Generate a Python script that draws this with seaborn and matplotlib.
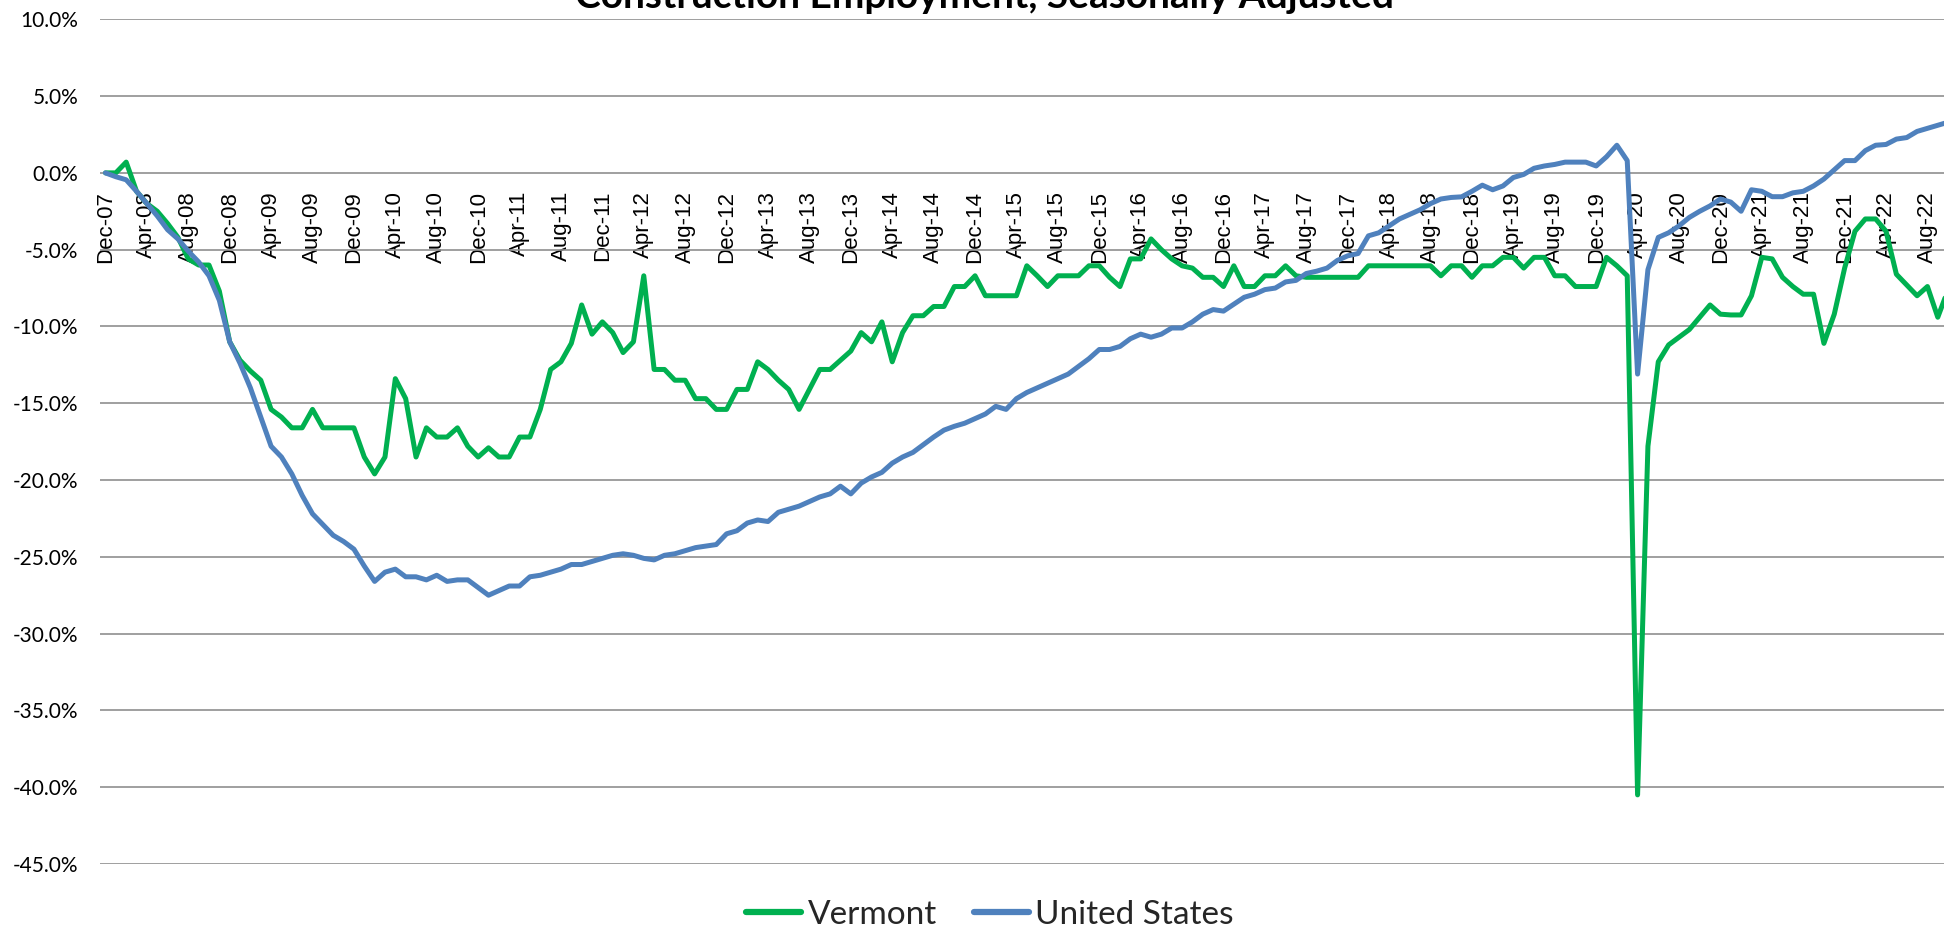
import numpy as np
import pandas as pd
import matplotlib
matplotlib.use("Agg")
import matplotlib.pyplot as plt
import seaborn as sns

# ---------------- data (percent change since Dec-07) ----------------
title = "Construction Employment, Seasonally Adjusted"
series_names = ["Vermont", "United States"]
months = pd.date_range("2007-12-01", periods=179, freq="MS")
month_labels = [m.strftime("%b-%y") for m in months]

vermont = [
    0.0, 0.0, 0.7, -1.2, -2.0, -2.5, -3.3, -4.2, -5.6, -6.0,
    -6.0, -7.7, -11.0, -12.2, -12.9, -13.5, -15.4, -15.9, -16.6, -16.6,
    -15.4, -16.6, -16.6, -16.6, -16.6, -18.5, -19.6, -18.5, -13.4, -14.7,
    -18.5, -16.6, -17.2, -17.2, -16.6, -17.8, -18.5, -17.9, -18.5, -18.5,
    -17.2, -17.2, -15.4, -12.8, -12.3, -11.1, -8.6, -10.5, -9.7, -10.4,
    -11.7, -11.0, -6.7, -12.8, -12.8, -13.5, -13.5, -14.7, -14.7, -15.4,
    -15.4, -14.1, -14.1, -12.3, -12.8, -13.5, -14.1, -15.4, -14.1, -12.8,
    -12.8, -12.2, -11.6, -10.4, -11.0, -9.7, -12.3, -10.4, -9.3, -9.3,
    -8.7, -8.7, -7.4, -7.4, -6.7, -8.0, -8.0, -8.0, -8.0, -6.05,
    -6.7, -7.4, -6.7, -6.7, -6.7, -6.05, -6.05, -6.8, -7.4, -5.6,
    -5.6, -4.3, -5.0, -5.6, -6.05, -6.2, -6.8, -6.8, -7.4, -6.05,
    -7.4, -7.4, -6.7, -6.7, -6.05, -6.7, -6.8, -6.8, -6.8, -6.8,
    -6.8, -6.8, -6.05, -6.05, -6.05, -6.05, -6.05, -6.05, -6.05, -6.7,
    -6.05, -6.05, -6.8, -6.05, -6.05, -5.5, -5.5, -6.2, -5.5, -5.5,
    -6.7, -6.7, -7.4, -7.4, -7.4, -5.5, -6.05, -6.7, -40.5, -17.8,
    -12.3, -11.2, -10.7, -10.2, -9.4, -8.6, -9.2, -9.25, -9.25, -8.0,
    -5.5, -5.6, -6.8, -7.4, -7.9, -7.9, -11.1, -9.2, -6.2, -3.8,
    -3.0, -3.0, -3.8, -6.6, -7.3, -8.0, -7.4, -9.4, -7.6,
]

united_states = [
    0.0, -0.25, -0.45, -1.2, -2.0, -2.8, -3.7, -4.3, -5.1, -5.8,
    -6.7, -8.3, -11.0, -12.4, -14.0, -15.9, -17.8, -18.5, -19.6, -21.0,
    -22.2, -22.9, -23.6, -24.0, -24.5, -25.6, -26.6, -26.0, -25.8, -26.3,
    -26.3, -26.5, -26.2, -26.6, -26.5, -26.5, -27.0, -27.5, -27.2, -26.9,
    -26.9, -26.3, -26.2, -26.0, -25.8, -25.5, -25.5, -25.3, -25.1, -24.9,
    -24.8, -24.9, -25.1, -25.2, -24.9, -24.8, -24.6, -24.4, -24.3, -24.2,
    -23.5, -23.3, -22.8, -22.6, -22.7, -22.1, -21.9, -21.7, -21.4, -21.1,
    -20.9, -20.4, -20.9, -20.2, -19.8, -19.5, -18.9, -18.5, -18.2, -17.7,
    -17.2, -16.75, -16.5, -16.3, -16.0, -15.7, -15.2, -15.4, -14.7, -14.3,
    -14.0, -13.7, -13.4, -13.1, -12.6, -12.1, -11.5, -11.5, -11.3, -10.8,
    -10.5, -10.7, -10.5, -10.1, -10.1, -9.7, -9.2, -8.9, -9.0, -8.55,
    -8.1, -7.9, -7.6, -7.5, -7.1, -7.0, -6.55, -6.4, -6.2, -5.7,
    -5.4, -5.25, -4.1, -3.9, -3.45, -3.0, -2.7, -2.4, -2.0, -1.7,
    -1.6, -1.56, -1.2, -0.8, -1.1, -0.85, -0.3, -0.1, 0.3, 0.45,
    0.55, 0.7, 0.7, 0.7, 0.45, 1.05, 1.8, 0.8, -13.1, -6.3,
    -4.2, -3.9, -3.45, -2.9, -2.5, -2.15, -1.7, -1.9, -2.5, -1.1,
    -1.2, -1.55, -1.55, -1.3, -1.2, -0.85, -0.4, 0.2, 0.8, 0.8,
    1.45, 1.8, 1.85, 2.2, 2.3, 2.7, 2.9, 3.1, 3.3,
]

y_ticks = [10, 5, 0, -5, -10, -15, -20, -25, -30, -35, -40, -45]

colors = ["#00B050", "#4F81BD"]

# ---------------- build long table ----------------
idx = np.arange(len(month_labels))
df = pd.DataFrame({
    "i": np.concatenate([idx, idx]),
    "value": np.concatenate([vermont, united_states]),
    "series": [series_names[0]] * len(idx) + [series_names[1]] * len(idx),
})

# ---------------- styling ----------------
sns.set_theme(style="white")
plt.rcParams["font.family"] = ["Lato", "DejaVu Sans"]

W, H = 1944, 931
fig = plt.figure(figsize=(W / 100, H / 100), dpi=100)
left_px, right_px = 100.3, 1944.0
top_px, bot_px = 19.3, 864.0
ax = fig.add_axes([left_px / W, 1 - bot_px / H,
                   (right_px - left_px) / W, (bot_px - top_px) / H])

# x axis crosses at 0 (labels hang from the 0% line)
for s in ["left", "right", "top"]:
    ax.spines[s].set_visible(False)
ax.spines["bottom"].set_position(("data", 0))
ax.spines["bottom"].set_visible(False)

sns.lineplot(data=df, x="i", y="value", hue="series",
             hue_order=series_names, palette=colors,
             linewidth=3.6, ax=ax, legend=False, sort=True)
for ln in ax.get_lines():
    ln.set_solid_joinstyle("round")
    ln.set_solid_capstyle("round")

ax.set_xlim(-0.5, 177.6)
ax.set_ylim(-45, 10)
ax.set_yticks(y_ticks)
ax.set_yticklabels([f"{v:.1f}%" for v in y_ticks])
ax.yaxis.grid(True, color="#8f8f8f", linewidth=1.2)
ax.xaxis.grid(False)
ax.set_axisbelow(True)

tick_pos = list(range(0, len(month_labels), 4))
ax.set_xticks(tick_pos)
ax.set_xticklabels([month_labels[p] for p in tick_pos])
ax.tick_params(axis="x", length=0, pad=13, colors="black", labelrotation=90)
ax.tick_params(axis="y", length=0, pad=16, labelsize=15, colors="black")
for lab in ax.get_xticklabels():
    lab.set_fontfamily(["Liberation Sans", "DejaVu Sans"])
    lab.set_fontsize(16)
    lab.set_ha("center")
    lab.set_va("top")
ax.set_xlabel("")
ax.set_ylabel("")

# title (partially cropped at the top, as in the reference)
fig.text(984.5 / W, 1 - 8 / H, title, ha="center", va="baseline",
         fontsize=28, fontweight="bold", color="black")

handles = ax.get_lines()[:2]
fig.legend(handles, series_names, loc="center",
           bbox_to_anchor=(990 / W, 1 - 915 / H), ncol=2, frameon=False,
           fontsize=24, handlelength=1.65, handletextpad=0.2,
           columnspacing=1.1, borderaxespad=0)
for h in fig.legends[0].get_lines():
    h.set_linewidth(4.5)

fig.savefig("out.png", dpi=100)
